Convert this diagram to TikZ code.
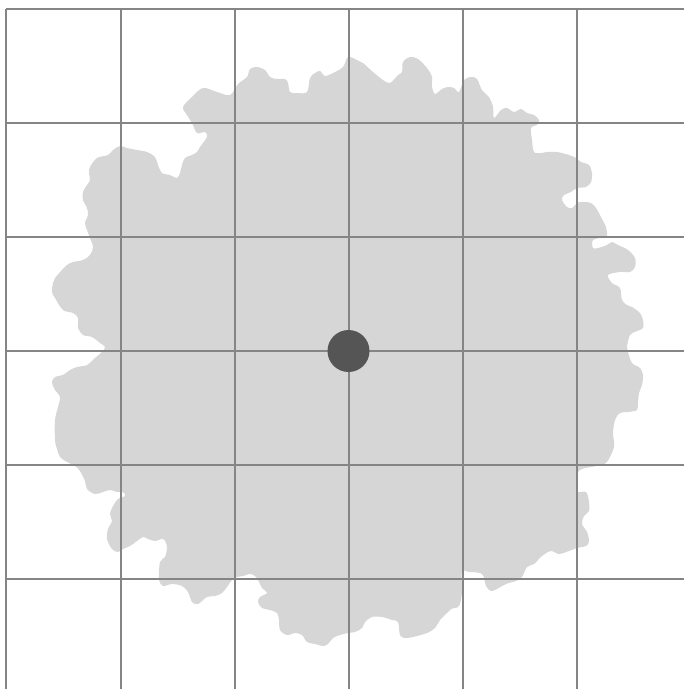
\documentclass[tikz,border=0pt]{standalone}
\usepackage{tikz}

\definecolor{blobgrey}{HTML}{D6D6D6}
\definecolor{gridgrey}{HTML}{858585}
\definecolor{dotgrey}{HTML}{555555}

\begin{document}
\begin{tikzpicture}[
  x=1pt,
  y=-1pt,
  blob/.style={fill=blobgrey,draw=none},
  gridline/.style={draw=gridgrey,line width=2pt},
  dot/.style={circle,fill=dotgrey,draw=none,inner sep=0pt,minimum size=42pt}
]
\useasboundingbox (0,0) rectangle (684,689);
\path[blob] plot[smooth cycle,tension=0.55] coordinates {
  (183,107) (192,97) (203,88) (217,92) (230,95) (238,84) (247,77) (250,69)
  (257,67) (265,70) (270,77) (277,79) (285,79) (288,83) (290,92) (297,93)
  (307,92) (310,78) (315,73) (320,71) (325,76) (333,73) (343,67) (348,57)
  (357,60) (363,63) (373,72) (383,80) (390,83) (398,75) (402,72) (403,62)
  (410,57) (418,59) (427,68) (432,77) (432,87) (435,94) (442,89) (448,87)
  (454,88) (459,92) (464,80) (471,77) (477,79) (482,90) (489,97) (493,107)
  (494,118) (501,110) (507,108) (514,112) (521,109) (527,113) (534,115)
  (539,120) (537,125) (531,128) (532,140) (534,152) (541,153) (547,152)
  (557,152) (569,155) (576,158) (581,162) (589,165) (592,173) (591,182)
  (586,187) (577,188) (571,192) (564,195) (562,200) (567,207) (572,208)
  (577,203) (582,202) (591,203) (596,208) (601,217) (606,227) (607,235)
  (605,237) (593,240) (593,248) (598,248) (607,245) (612,242) (618,245)
  (628,250) (635,258) (635,267) (630,272) (620,272) (608,275) (612,283)
  (620,288) (622,300) (627,305) (632,307) (640,313) (643,320) (643,328)
  (637,331) (630,335) (627,347) (628,352) (632,363) (640,368) (643,375)
  (642,385) (639,393) (638,403) (637,410) (628,412) (620,413) (615,420)
  (613,433) (614,447) (607,462) (601,465) (591,467) (582,469) (577,474)
  (577,491) (586,492) (589,502) (589,511) (584,516) (582,524) (587,532)
  (589,541) (586,546) (577,548) (569,551) (559,554) (551,551) (542,556)
  (534,564) (527,567) (522,577) (516,581) (506,584) (497,589) (491,591)
  (486,586) (482,574) (469,572) (462,572) (462,592) (459,606) (451,609)
  (447,613) (440,620) (435,628) (427,633) (413,637) (405,638) (400,635)
  (398,622) (392,620) (382,617) (372,617) (365,622) (362,628) (355,632)
  (348,633) (340,635) (333,638) (328,644) (323,646) (315,644) (307,642)
  (302,635) (295,633) (287,635) (280,630) (279,620) (277,613) (270,610)
  (262,608) (258,602) (260,597) (267,593) (262,588) (258,580) (255,576)
  (250,574) (243,576) (237,577) (232,580) (227,587) (222,593) (215,596)
  (207,597) (198,604) (192,602) (188,592) (182,586) (172,584) (163,586)
  (159,579) (160,562) (165,557) (167,546) (163,539) (155,541) (148,539)
  (143,537) (137,541) (130,546) (123,549) (118,552) (112,549) (107,539)
  (108,529) (112,521) (110,514) (113,506) (118,499) (125,496) (123,492)
  (117,492) (110,490) (103,492) (95,494) (87,489) (85,481) (80,471)
  (75,466) (67,462) (60,457) (57,449) (55,440) (55,420) (58,407) (60,397)
  (55,390) (52,382) (55,377) (63,375) (70,370) (77,367) (87,365) (95,358)
  (102,352) (105,347) (100,343) (92,337) (83,335) (78,328) (78,318)
  (73,313) (63,310) (55,298) (52,292) (53,283) (55,278) (62,270) (67,265)
  (73,262) (83,260) (90,255) (93,247) (90,238) (87,230) (85,223) (88,215)
  (87,208) (83,200) (83,192) (87,185) (90,180) (89,173) (90,167) (97,158)
  (108,155) (113,150) (120,146) (127,148) (137,150) (147,152) (155,157)
  (158,165) (162,173) (170,175) (177,178) (180,173) (182,165) (185,158)
  (192,155) (197,152) (200,147) (207,137) (205,132) (197,133) (192,123)
  (187,115)
};
\foreach \x in {6,120.5,234.5,348.5,462.5,577} {
  \draw[gridline] (\x,9) -- (\x,689);
}
\foreach \y in {9,123,237,351,465,579} {
  \draw[gridline] (6,\y) -- (684,\y);
}
\node[dot] (hub) at (348.5,351) {};
\end{tikzpicture}
\end{document}
